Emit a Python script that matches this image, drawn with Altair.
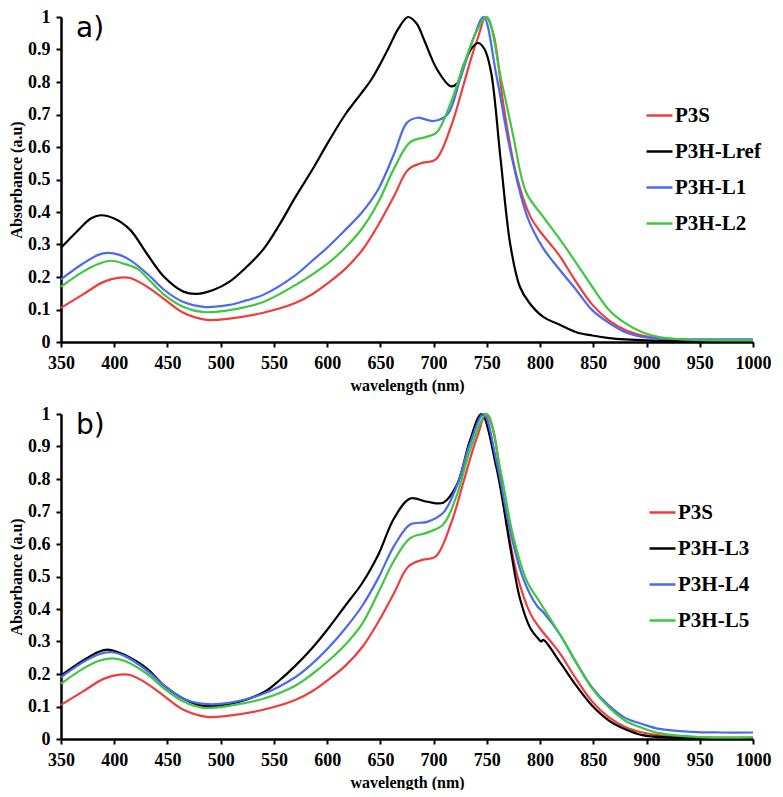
import altair as alt
import pandas as pd

# ---------------- data ----------------
PANEL_LABELS = ["a)", "b)"]
X_TICKS = [350, 400, 450, 500, 550, 600, 650, 700, 750, 800, 850, 900, 950, 1000]
Y_TICKS = [0, 0.1, 0.2, 0.3, 0.4, 0.5, 0.6, 0.7, 0.8, 0.9, 1]

# P3S (appears in both panels)
p3s_wl = [350, 370, 390, 405, 415, 430, 447, 465, 487, 508, 540, 570, 586, 601, 617, 633, 648, 663, 676, 688, 702,
          716, 728, 735, 742, 749, 756, 766, 778, 791, 800, 810, 819, 834, 849, 865, 880, 896, 912, 930, 950, 975, 1000]
p3s_abs = [0.105, 0.145, 0.185, 0.198, 0.197, 0.172, 0.132, 0.09, 0.068, 0.072, 0.09, 0.12, 0.147, 0.182, 0.225, 0.283,
           0.36, 0.45, 0.53, 0.55, 0.562, 0.66, 0.79, 0.87, 0.94, 1.0, 0.95, 0.72, 0.51, 0.385, 0.34, 0.30, 0.262,
           0.184, 0.115, 0.066, 0.037, 0.02, 0.011, 0.007, 0.005, 0.004, 0.004]

# Panel a
lref_wl = [350, 365, 378, 387, 400, 415, 431, 447, 465, 477, 493, 508, 524, 540, 555, 570, 586, 601, 617, 632, 642, 657,
           667, 676, 684, 691, 703, 716, 722, 728, 736, 742, 748, 754, 763, 772, 781, 790, 803, 819, 834, 849, 865, 880,
           900, 930, 960, 1000]
lref_abs = [0.29, 0.34, 0.38, 0.39, 0.38, 0.345, 0.27, 0.2, 0.155, 0.148, 0.16, 0.185, 0.23, 0.285, 0.36, 0.445, 0.53,
            0.615, 0.70, 0.765, 0.81, 0.90, 0.965, 1.0, 0.98, 0.93, 0.84, 0.787, 0.795, 0.85, 0.905, 0.92, 0.9, 0.83,
            0.56, 0.30, 0.17, 0.12, 0.077, 0.052, 0.03, 0.02, 0.012, 0.008, 0.005, 0.003, 0.002, 0.002]

l1_wl = [350, 370, 385, 394, 405, 415, 431, 447, 465, 484, 508, 524, 540, 570, 586, 601, 617, 633, 648, 663, 675, 685,
         700, 713, 725, 738, 747, 759, 772, 788, 803, 819, 834, 849, 865, 880, 896, 920, 950, 1000]
l1_abs = [0.193, 0.24, 0.268, 0.274, 0.268, 0.252, 0.21, 0.16, 0.123, 0.108, 0.114, 0.128, 0.145, 0.205, 0.25, 0.293,
          0.345, 0.40, 0.47, 0.58, 0.675, 0.69, 0.68, 0.70, 0.81, 0.94, 1.0, 0.82, 0.59, 0.385, 0.288, 0.22, 0.16,
          0.098, 0.058, 0.03, 0.016, 0.01, 0.008, 0.008]

l2_wl = [350, 370, 385, 397, 410, 422, 431, 447, 465, 484, 508, 524, 540, 570, 601, 617, 633, 648, 663, 678, 694, 703,
         716, 728, 741, 750, 763, 775, 787, 803, 819, 834, 849, 865, 880, 896, 912, 940, 970, 1000]
l2_abs = [0.17, 0.215, 0.24, 0.25, 0.24, 0.225, 0.197, 0.145, 0.108, 0.092, 0.098, 0.108, 0.123, 0.175, 0.243, 0.29,
          0.35, 0.43, 0.535, 0.615, 0.632, 0.645, 0.735, 0.85, 0.96, 1.0, 0.815, 0.63, 0.46, 0.385, 0.314, 0.243, 0.17,
          0.098, 0.058, 0.03, 0.015, 0.007, 0.005, 0.005]

# Panel b
l3_wl = [350, 370, 385, 394, 405, 415, 431, 447, 465, 484, 508, 540, 555, 570, 586, 601, 617, 633, 648, 663, 678, 694,
         709, 722, 734, 745, 759, 772, 781, 791, 798, 801, 803, 819, 834, 849, 865, 880, 896, 920, 950, 1000]
l3_abs = [0.195, 0.24, 0.268, 0.275, 0.265, 0.25, 0.216, 0.164, 0.124, 0.102, 0.108, 0.143, 0.18, 0.225, 0.28, 0.34,
          0.41, 0.48, 0.567, 0.68, 0.74, 0.73, 0.727, 0.783, 0.917, 1.0, 0.835, 0.59, 0.433, 0.34, 0.31, 0.30, 0.305,
          0.235, 0.164, 0.102, 0.056, 0.03, 0.012, 0.005, 0.003, 0.003]

l4_wl = [350, 370, 385, 397, 410, 431, 447, 465, 484, 508, 540, 570, 586, 601, 617, 633, 648, 663, 678, 694, 709, 722,
         734, 747, 759, 772, 784, 797, 803, 819, 834, 849, 865, 880, 896, 912, 943, 970, 1000]
l4_abs = [0.19, 0.235, 0.26, 0.267, 0.255, 0.21, 0.164, 0.124, 0.108, 0.111, 0.139, 0.19, 0.232, 0.28, 0.34, 0.41,
          0.495, 0.595, 0.66, 0.668, 0.696, 0.78, 0.907, 1.0, 0.855, 0.64, 0.495, 0.41, 0.39, 0.32, 0.235, 0.158, 0.102,
          0.065, 0.046, 0.031, 0.022, 0.02, 0.02]

l5_wl = [350, 370, 385, 398, 410, 431, 447, 465, 484, 508, 540, 570, 586, 601, 617, 633, 648, 663, 678, 694, 709, 722,
         734, 750, 763, 775, 788, 800, 819, 834, 849, 865, 880, 896, 912, 950, 1000]
l5_abs = [0.17, 0.215, 0.24, 0.248, 0.24, 0.2, 0.155, 0.115, 0.096, 0.102, 0.124, 0.164, 0.2, 0.24, 0.29, 0.355, 0.45,
          0.55, 0.618, 0.635, 0.66, 0.752, 0.886, 1.0, 0.824, 0.62, 0.483, 0.42, 0.32, 0.235, 0.155, 0.096, 0.056,
          0.034, 0.018, 0.006, 0.005]

SERIES_A = [("P3S", p3s_wl, p3s_abs), ("P3H-Lref", lref_wl, lref_abs),
            ("P3H-L1", l1_wl, l1_abs), ("P3H-L2", l2_wl, l2_abs)]
SERIES_B = [("P3S", p3s_wl, p3s_abs), ("P3H-L3", l3_wl, l3_abs),
            ("P3H-L4", l4_wl, l4_abs), ("P3H-L5", l5_wl, l5_abs)]
COLORS = ["#f03c3c", "#000000", "#4a6af0", "#3ec83e"]

SERIF = "'Liberation Serif', 'Times New Roman', 'DejaVu Serif', serif"
W, H = 692, 325


def make_df(series):
    rows = []
    for name, wl, ab in series:
        for x, y in zip(wl, ab):
            rows.append({"wl": x, "abs": y, "series": name})
    return pd.DataFrame(rows)


def panel(series, label, legend_x, legend_y):
    df = make_df(series)
    names = [s[0] for s in series]
    lines = alt.Chart(df).mark_line(interpolate="catmull-rom", strokeWidth=2.2).encode(
        x=alt.X("wl:Q", scale=alt.Scale(domain=[350, 1000], nice=False),
                axis=alt.Axis(values=X_TICKS, format="d", title="wavelength (nm)", labelFlush=False,
                              labelPadding=7, titlePadding=5)),
        y=alt.Y("abs:Q", scale=alt.Scale(domain=[0, 1], nice=False),
                axis=alt.Axis(values=Y_TICKS, format="~g", title="Absorbance (a.u)",
                              labelPadding=6, titlePadding=3)),
        color=alt.Color("series:N", scale=alt.Scale(domain=names, range=COLORS),
                        legend=alt.Legend(orient="none", legendX=legend_x, legendY=legend_y, title=None,
                                          symbolType="stroke", symbolSize=676, symbolStrokeWidth=2.5,
                                          labelFont=SERIF, labelFontWeight="bold", labelFontSize=21,
                                          labelColor="black", rowPadding=11, labelOffset=1)),
    )
    txt = alt.Chart(pd.DataFrame({"t": [label]})).mark_text(
        font="DejaVu Sans", fontSize=28, align="left", baseline="top", color="black"
    ).encode(text="t:N", x=alt.value(15), y=alt.value(-2))
    return alt.layer(lines, txt).properties(width=W, height=H)


a = panel(SERIES_A, PANEL_LABELS[0], 584, 84)
b = panel(SERIES_B, PANEL_LABELS[1], 587, 84)

chart = alt.vconcat(a, b, spacing=12).resolve_scale(color="independent").properties(
    padding={"left": 0, "top": 0, "right": 2, "bottom": 0}, background="white"
).configure_axis(
    labelFont=SERIF, labelFontWeight="bold", labelFontSize=18, labelColor="black",
    titleFont=SERIF, titleFontWeight="bold", titleFontSize=16, titleColor="black",
    domainColor="black", domainWidth=2.5, tickColor="black", tickWidth=2, tickSize=5, grid=False
).configure_view(stroke=None)

chart.save("out.html", embed_options={"renderer": "svg", "actions": False})
